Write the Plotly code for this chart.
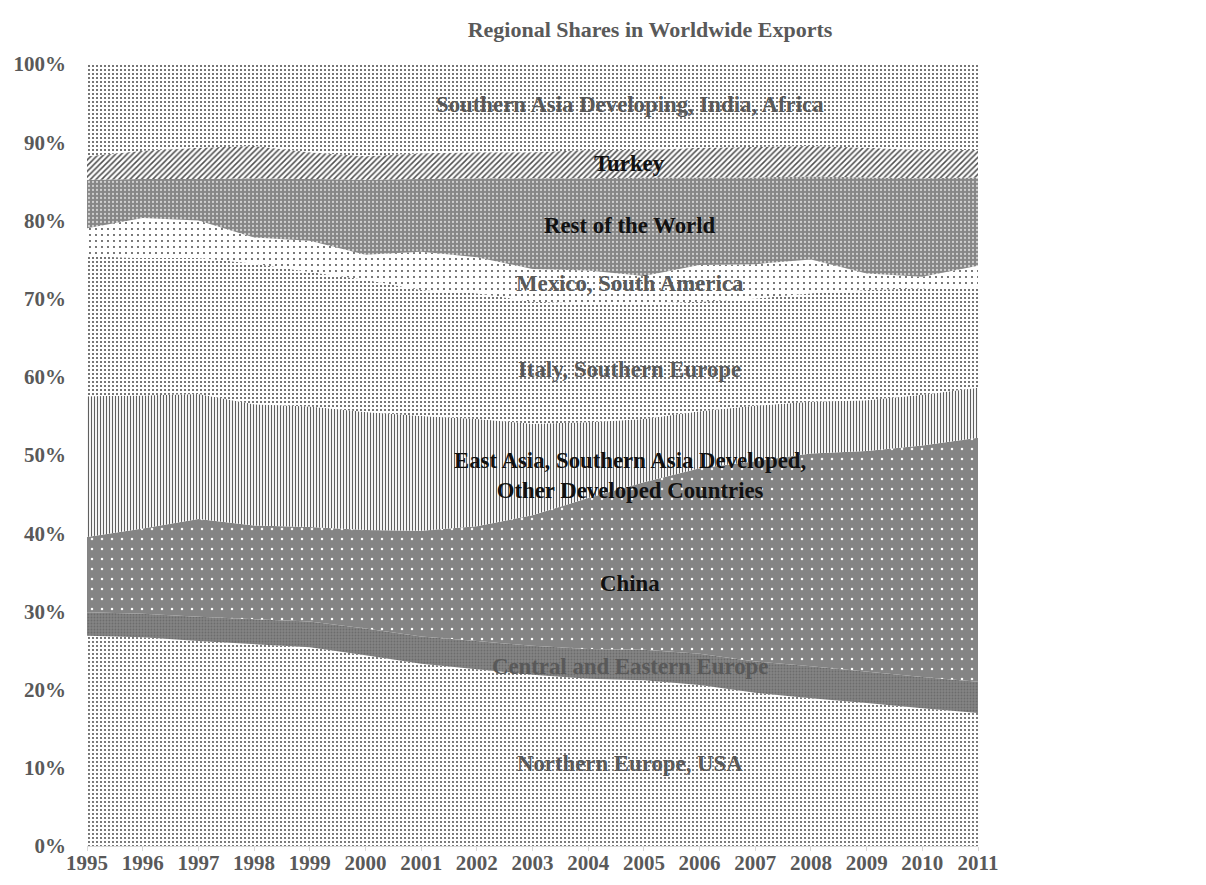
import plotly.graph_objects as go

years = list(range(1995, 2012))

northern_europe_usa = [26.9, 26.7, 26.2, 25.8, 25.4, 24.4, 23.3, 22.6, 21.9, 21.4, 21.2, 20.6, 19.6, 18.9, 18.3, 17.6, 17.0]
central_eastern_europe = [3.0, 3.0, 3.1, 3.2, 3.3, 3.4, 3.5, 3.6, 3.7, 3.8, 3.9, 4.0, 4.0, 4.1, 4.0, 4.0, 4.0]
china = [9.6, 10.9, 12.5, 12.0, 12.1, 12.6, 13.5, 14.7, 16.7, 19.3, 21.4, 23.7, 25.6, 27.2, 28.2, 29.6, 31.2]
east_asia_developed = [18.0, 17.0, 16.0, 15.5, 15.4, 15.1, 14.7, 13.7, 11.7, 9.7, 8.1, 7.3, 7.1, 6.6, 6.5, 6.5, 6.4]
italy_southern_europe = [17.9, 17.6, 17.4, 18.0, 17.2, 16.9, 16.1, 16.1, 15.6, 15.2, 14.8, 14.0, 13.7, 13.9, 14.1, 13.6, 12.9]
mexico_south_america = [3.6, 5.1, 4.8, 3.3, 4.0, 3.2, 4.9, 4.6, 4.2, 4.2, 3.5, 4.7, 4.4, 4.3, 2.1, 1.5, 2.7]
rest_of_world = [6.2, 5.0, 5.3, 7.6, 7.9, 9.6, 9.3, 10.1, 11.6, 11.8, 12.6, 11.2, 11.1, 10.6, 12.3, 12.6, 11.3]
turkey = [3.0, 3.6, 4.0, 4.1, 3.4, 3.0, 3.3, 3.3, 3.3, 3.6, 3.5, 3.8, 3.9, 3.9, 3.8, 3.6, 3.5]
southern_asia_dev = [11.8, 11.1, 10.7, 10.5, 11.3, 11.8, 11.4, 11.3, 11.3, 11.0, 11.0, 10.7, 10.6, 10.5, 10.7, 11.0, 11.0]

series_names = [
    "Northern Europe, USA",
    "Central and Eastern Europe",
    "China",
    "East Asia, Southern Asia Developed,<br>Other Developed Countries",
    "Italy, Southern Europe",
    "Mexico, South America",
    "Rest of the World",
    "Turkey",
    "Southern Asia Developing, India, Africa",
]
series_values = [
    northern_europe_usa, central_eastern_europe, china, east_asia_developed,
    italy_southern_europe, mexico_south_america, rest_of_world, turkey, southern_asia_dev,
]

patterns = [
    dict(shape=".", bgcolor="white", fgcolor="#3a3a3a", size=4, solidity=0.16),
    dict(shape=".", bgcolor="#848484", fgcolor="#6c6c6c", size=3, solidity=0.3),
    dict(shape=".", bgcolor="#848484", fgcolor="#ffffff", size=10, solidity=0.05),
    dict(shape="|", bgcolor="white", fgcolor="#606060", size=3, solidity=0.38),
    dict(shape=".", bgcolor="white", fgcolor="#3a3a3a", size=4, solidity=0.17),
    dict(shape=".", bgcolor="white", fgcolor="#3a3a3a", size=6, solidity=0.07),
    dict(shape=".", bgcolor="#868686", fgcolor="#cfcfcf", size=4, solidity=0.25),
    dict(shape="/", bgcolor="white", fgcolor="#505050", size=4, solidity=0.38),
    dict(shape=".", bgcolor="white", fgcolor="#3a3a3a", size=4, solidity=0.17),
]

label_y = [10.6, 22.9, 33.6, 47.4, 60.9, 71.9, 79.3, 87.3, 94.8]
label_colors = ["#595959", "#595959", "#111111", "#111111", "#595959", "#595959", "#111111", "#111111", "#595959"]
label_x = 2004.75

fig = go.Figure()
for name, vals, pat in zip(series_names, series_values, patterns):
    fig.add_trace(go.Scatter(
        x=years, y=vals, name=name, mode="lines", stackgroup="one",
        line=dict(width=0, color=pat["fgcolor"]),
        fillcolor=pat["bgcolor"],
        fillpattern=dict(shape=pat["shape"], bgcolor=pat["bgcolor"], fgcolor=pat["fgcolor"],
                         size=pat["size"], solidity=pat["solidity"], fillmode="replace"),
        showlegend=False, hoverinfo="skip",
    ))

font_family = "Liberation Serif, Times New Roman, serif"
for name, ly, col in zip(series_names, label_y, label_colors):
    fig.add_annotation(x=label_x, y=ly, text="<b>" + name + "</b>", showarrow=False,
                       font=dict(family=font_family, size=22.8, color=col), xref="x", yref="y")

fig.update_layout(
    width=1190, height=869,
    margin=dict(l=79, r=220, t=56, b=31),
    paper_bgcolor="white", plot_bgcolor="white",
    title=dict(text="<b>Regional Shares in Worldwide Exports</b>", x=0.5395, xanchor="center",
               y=0.975, yanchor="middle",
               font=dict(family=font_family, size=22, color="#595959")),
    xaxis=dict(range=[1995, 2011], tickmode="array", tickvals=years, ticktext=[str(y) for y in years],
               showgrid=False, zeroline=False, showline=True, linecolor="#d9d9d9",
               ticks="outside", ticklen=4, tickcolor="#d9d9d9", automargin=False,
               ticklabelstandoff=-6,
               tickfont=dict(family=font_family, size=21, color="#595959", weight="bold")),
    yaxis=dict(range=[0, 100], tickmode="array", tickvals=list(range(0, 101, 10)),
               ticktext=[f"{v}%" for v in range(0, 101, 10)],
               showgrid=False, zeroline=False, showline=False, ticks="",
               ticklabelstandoff=20, automargin=False,
               tickfont=dict(family=font_family, size=21, color="#595959", weight="bold")),
)

fig.write_html("out.html")
